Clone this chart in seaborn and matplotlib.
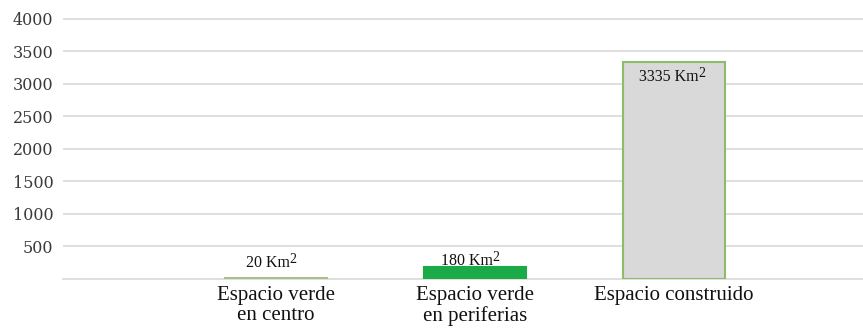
import matplotlib
matplotlib.use("Agg")
import matplotlib.pyplot as plt
import seaborn as sns
import pandas as pd

# Surface area by land use (km²)
categories = ["Espacio verde\nen centro", "Espacio verde\nen periferias", "Espacio construido"]
areas = [20, 180, 3335]
value_labels = ["20 Km", "180 Km", "3335 Km"]
y_ticks = [500, 1000, 1500, 2000, 2500, 3000, 3500, 4000]

fill_colors = ["#b5c79a", "#1aaa48", "#d9d9d9"]
edge_colors = ["#a9c08a", "#1aaa48", "#8dbd6b"]

sns.set_theme(style="white")
plt.rcParams["font.family"] = ["Liberation Serif", "DejaVu Serif"]

df = pd.DataFrame({"categoria": categories, "area": areas})

fig = plt.figure(figsize=(8.63, 3.31), dpi=100)
ax = fig.add_axes([63 / 863, 1 - 279 / 331, 1 - 63 / 863, (279 - 15) / 331])

sns.barplot(data=df, x="categoria", y="area", hue="categoria",
            palette=fill_colors, saturation=1, width=0.51, legend=False,
            ax=ax, zorder=3)

for patch, ec in zip(ax.patches, edge_colors):
    patch.set_edgecolor(ec)
    patch.set_linewidth(1.5)

ax.set_xlim(-1.07, 2.95)
ax.set_ylim(0, 4060)
ax.set_yticks(y_ticks)
ax.set_yticklabels([str(t) for t in y_ticks], family="DejaVu Serif",
                   fontsize=11.5, color="#3a3a3a")
ax.tick_params(axis="y", length=0, pad=7)
ax.tick_params(axis="x", length=0, pad=5)
for lab in ax.get_xticklabels():
    lab.set_fontsize(15)
    lab.set_color("#111111")
    lab.set_linespacing(1.08)
ax.set_xlabel("")
ax.set_ylabel("")

ax.yaxis.grid(True, color="#d9d9d9", linewidth=1.2, zorder=0)
ax.set_axisbelow(True)
for side in ["top", "right", "left"]:
    ax.spines[side].set_visible(False)
ax.spines["bottom"].set_color("#d9d9d9")
ax.spines["bottom"].set_linewidth(1.2)

# value labels with a raised "2"
label_offsets = [(-6, 5, "bottom"), (-6, -1, "bottom"), (-4, -5, "top")]
for i, (val, txt) in enumerate(zip(areas, value_labels)):
    dx, dy, va = label_offsets[i]
    t = ax.annotate(txt, xy=(i, val), xytext=(dx, dy), textcoords="offset points",
                    ha="center", va=va, fontsize=11.5, color="#111111", zorder=5)
    ax.annotate("2", xy=(1.0, 1.12), xycoords=t, ha="left", va="top",
                fontsize=10, color="#111111", zorder=5)

fig.savefig("out.png", dpi=100)
